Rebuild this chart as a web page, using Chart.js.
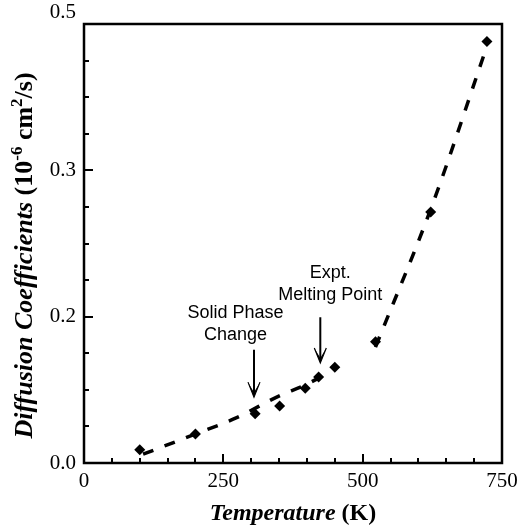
<!DOCTYPE html>
<html>
<head>
<meta charset="utf-8">
<script src="https://cdn.jsdelivr.net/npm/chart.js@4.4.1/dist/chart.umd.min.js"></script>
<style>
  html, body { margin: 0; padding: 0; background: #fff; }
  #wrap { width: 517px; height: 526px; position: relative; }
</style>
</head>
<body>
<div id="wrap"><canvas id="c" width="517" height="526"></canvas></div>
<script>
// ---- data ----
const tempK    = [100, 200, 307, 351, 397, 421, 450, 523, 622, 723];
const diffCoef = [0.015, 0.033, 0.056, 0.065, 0.085, 0.098, 0.109, 0.138, 0.286, 0.480];

// dashed fitted curve, low-temperature branch and high-temperature branch
const fitLowT  = [106, 196, 275, 352, 394, 428];
const fitLowD  = [0.010, 0.032, 0.052, 0.077, 0.088, 0.099];
const fitHighT = [523, 625, 722];
const fitHighD = [0.132, 0.294, 0.473];

// axis ticks
const xTickValues = [0, 250, 500, 750];
const xTickLabels = ['0', '250', '500', '750'];
const yTickValues = [0, 0.5 / 3, 1 / 3, 0.5];
const yTickLabels = ['0.0', '0.2', '0.3', '0.5'];
const xMinorStep = 50;
const yMinorStep = 0.5 / 12;

// annotations
const annoSolid = { lines: ['Solid Phase', 'Change'], x: 272, y: 0.171, arrowX: 305, from: 0.129, to: 0.075 };
const annoMelt  = { lines: ['Expt.', 'Melting Point'], x: 442, y: 0.216, arrowX: 424, from: 0.166, to: 0.114 };

const pts = tempK.map((t, i) => ({ x: t, y: diffCoef[i] }));
const low = fitLowT.map((t, i) => ({ x: t, y: fitLowD[i] }));
const high = fitHighT.map((t, i) => ({ x: t, y: fitHighD[i] }));

const SERIF = '"Liberation Serif", "Times New Roman", serif';
const SANS = '"Liberation Sans", Arial, sans-serif';

const framePlugin = {
  id: 'frame',
  afterDraw(chart) {
    const { ctx, chartArea: a, scales: { x, y } } = chart;
    ctx.save();
    ctx.strokeStyle = '#000';
    ctx.lineWidth = 2.5;
    ctx.strokeRect(a.left, a.top, a.right - a.left, a.bottom - a.top);
    // inward ticks
    ctx.lineWidth = 2;
    ctx.beginPath();
    for (let v = x.min; v <= x.max + 1e-9; v += xMinorStep) {
      const px = Math.round(x.getPixelForValue(v)) ;
      const major = xTickValues.some(t => Math.abs(t - v) < 1e-6);
      ctx.moveTo(px, a.bottom);
      ctx.lineTo(px, a.bottom - (major ? 9 : 5));
    }
    for (let i = 0; i <= 12; i++) {
      const v = i * yMinorStep;
      const py = Math.round(y.getPixelForValue(v));
      const major = yTickValues.some(t => Math.abs(t - v) < 1e-6);
      ctx.moveTo(a.left, py);
      ctx.lineTo(a.left + (major ? 9 : 5), py);
    }
    ctx.stroke();

    // annotations
    ctx.fillStyle = '#000';
    ctx.font = '18px ' + SANS;
    ctx.textAlign = 'center';
    ctx.textBaseline = 'middle';
    [annoSolid, annoMelt].forEach(an => {
      const cx = x.getPixelForValue(an.x);
      const cy = y.getPixelForValue(an.y);
      an.lines.forEach((l, k) => ctx.fillText(l, cx, cy + k * 22));
      const ax = x.getPixelForValue(an.arrowX);
      const y1 = y.getPixelForValue(an.from);
      const y2 = y.getPixelForValue(an.to);
      ctx.lineWidth = 2;
      ctx.beginPath();
      ctx.moveTo(ax, y1);
      ctx.lineTo(ax, y2 - 3);
      ctx.stroke();
      ctx.beginPath();
      ctx.moveTo(ax - 6, y2 - 15);
      ctx.lineTo(ax, y2);
      ctx.lineTo(ax + 6, y2 - 15);
      ctx.lineTo(ax, y2 - 5);
      ctx.closePath();
      ctx.fill();
      ctx.lineWidth = 1.2;
      ctx.beginPath();
      ctx.moveTo(ax - 6, y2 - 15);
      ctx.lineTo(ax, y2);
      ctx.lineTo(ax + 6, y2 - 15);
      ctx.stroke();
    });

    // axis titles
    const drawRuns = (runs, startX, baseY) => {
      let cx = startX;
      runs.forEach(r => {
        ctx.font = r.font;
        ctx.fillText(r.t, cx, baseY + (r.dy || 0));
        cx += ctx.measureText(r.t).width;
      });
    };
    const measureRuns = runs => runs.reduce((s, r) => { ctx.font = r.font; return s + ctx.measureText(r.t).width; }, 0);

    ctx.textAlign = 'left';
    ctx.textBaseline = 'alphabetic';
    const xRuns = [
      { t: 'Temperature', font: 'italic bold 24px ' + SERIF },
      { t: ' (K)', font: 'bold 24px ' + SERIF }
    ];
    const xw = measureRuns(xRuns);
    const xc = (a.left + a.right) / 2;
    drawRuns(xRuns, xc - xw / 2, 520);

    const yRuns = [
      { t: 'Diffusion Coefficients', font: 'italic bold 26px ' + SERIF },
      { t: ' (10', font: 'bold 26px ' + SERIF },
      { t: '-6', font: 'bold 17px ' + SERIF, dy: -10 },
      { t: ' cm', font: 'bold 26px ' + SERIF },
      { t: '2', font: 'bold 17px ' + SERIF, dy: -10 },
      { t: '/s)', font: 'bold 26px ' + SERIF }
    ];
    const yw = measureRuns(yRuns);
    const yc = (a.top + a.bottom) / 2 + 12;
    ctx.save();
    ctx.translate(32, yc);
    ctx.rotate(-Math.PI / 2);
    drawRuns(yRuns, -yw / 2, 0);
    ctx.restore();
    ctx.restore();
  }
};

new Chart(document.getElementById('c'), {
  type: 'scatter',
  data: {
    datasets: [
      {
        label: 'Fit (low T)', type: 'line', data: low,
        borderColor: '#000', borderWidth: 3.5, borderDash: [11, 12],
        pointRadius: 0, fill: false, cubicInterpolationMode: 'monotone', tension: 0.4
      },
      {
        label: 'Fit (high T)', type: 'line', data: high,
        borderColor: '#000', borderWidth: 3.5, borderDash: [11, 12],
        pointRadius: 0, fill: false, cubicInterpolationMode: 'monotone', tension: 0.4
      },
      {
        label: 'Data', data: pts,
        pointStyle: 'rectRot', pointRadius: 5.5, backgroundColor: '#000', borderColor: '#000', borderWidth: 0
      }
    ]
  },
  options: {
    responsive: false,
    animation: false,
    events: [],
    layout: { padding: { top: 24, right: 15, left: 0, bottom: 0 } },
    plugins: { legend: { display: false }, tooltip: { enabled: false } },
    scales: {
      x: {
        type: 'linear', min: 0, max: 750,
        afterBuildTicks: s => { s.ticks = xTickValues.map(v => ({ value: v })); },
        afterFit: s => { s.height = 63; s.paddingLeft = 0; s.paddingRight = 0; },
        grid: { display: false, drawTicks: false },
        border: { display: false },
        ticks: {
          padding: 6, color: '#000', font: { family: SERIF, size: 21 },
          callback: (v, i) => xTickLabels[i]
        }
      },
      y: {
        type: 'linear', min: 0, max: 0.5,
        afterBuildTicks: s => { s.ticks = yTickValues.map(v => ({ value: v })); },
        afterFit: s => { s.width = 84; s.paddingTop = 0; s.paddingBottom = 0; },
        grid: { display: false, drawTicks: false },
        border: { display: false },
        ticks: {
          padding: 8, color: '#000', font: { family: SERIF, size: 21, lineHeight: 1.05 },
          callback: (v, i) => (i === yTickLabels.length - 1 ? [yTickLabels[i], ''] : yTickLabels[i])
        }
      }
    }
  },
  plugins: [framePlugin]
});
</script>
</body>
</html>
